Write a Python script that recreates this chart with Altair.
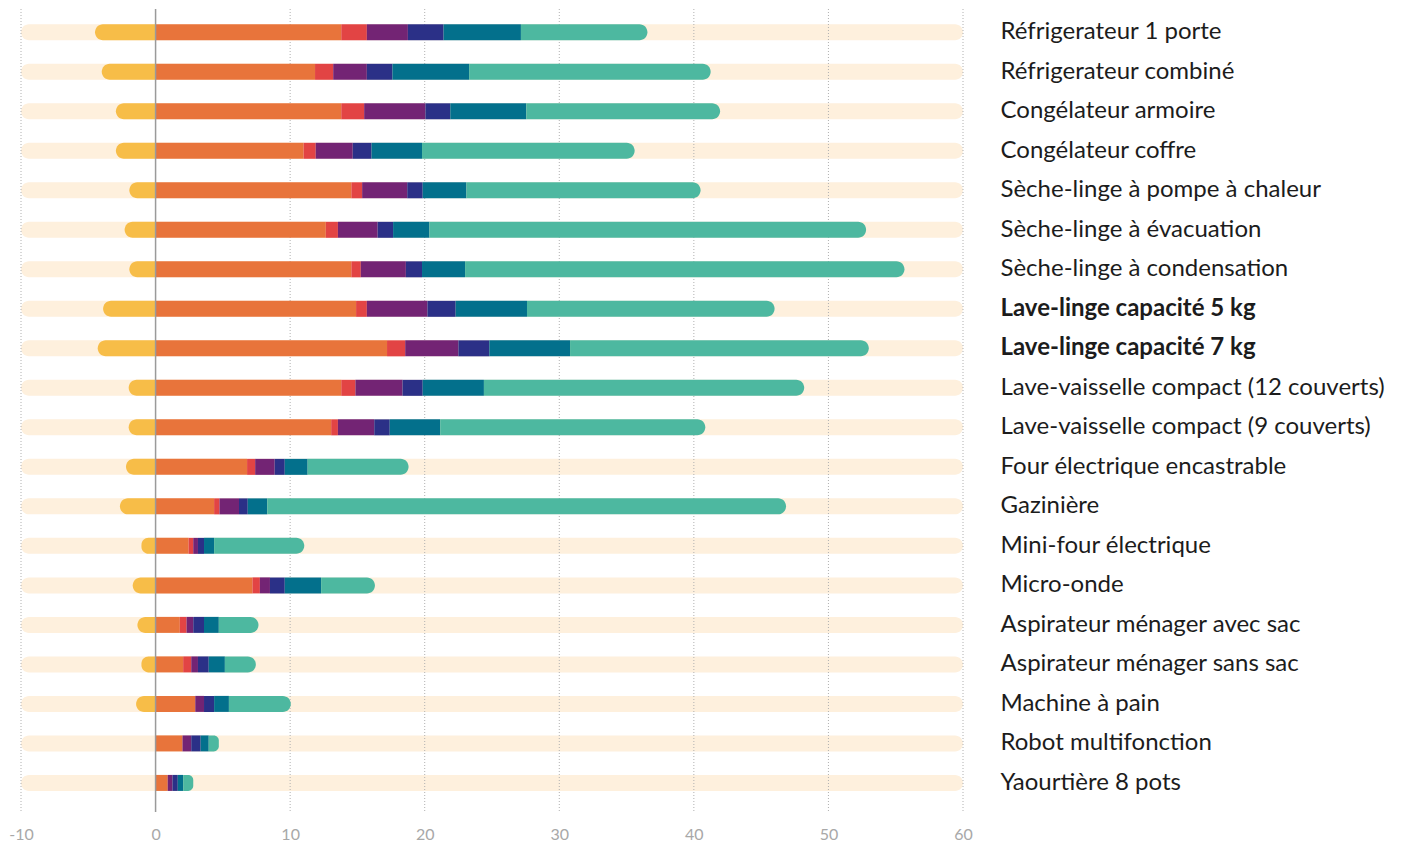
import altair as alt
import pandas as pd

categories = [
    "Réfrigerateur 1 porte",
    "Réfrigerateur combiné",
    "Congélateur armoire",
    "Congélateur coffre",
    "Sèche-linge à pompe à chaleur",
    "Sèche-linge à évacuation",
    "Sèche-linge à condensation",
    "Lave-linge capacité 5 kg",
    "Lave-linge capacité 7 kg",
    "Lave-vaisselle compact (12 couverts)",
    "Lave-vaisselle compact (9 couverts)",
    "Four électrique encastrable",
    "Gazinière",
    "Mini-four électrique",
    "Micro-onde",
    "Aspirateur ménager avec sac",
    "Aspirateur ménager sans sac",
    "Machine à pain",
    "Robot multifonction",
    "Yaourtière 8 pots",
]
bold_labels = ["Lave-linge capacité 5 kg", "Lave-linge capacité 7 kg"]

# segment values (widths)
s_yellow = [-4.5, -4.0, -2.95, -2.95, -1.95, -2.3, -1.95, -3.9, -4.3, -2.0,
            -2.0, -2.2, -2.65, -1.05, -1.7, -1.35, -1.05, -1.45, 0, 0]
s_orange = [13.8, 11.85, 13.8, 11.0, 14.55, 12.65, 14.55, 14.9, 17.2, 13.8,
            13.05, 6.8, 4.35, 2.45, 7.2, 1.8, 2.05, 2.95, 2.0, 0.9]
s_red = [1.9, 1.35, 1.7, 0.9, 0.8, 0.9, 0.7, 0.8, 1.35, 1.05,
         0.5, 0.6, 0.4, 0.35, 0.55, 0.5, 0.6, 0, 0, 0]
s_purple = [3.05, 2.5, 4.55, 2.75, 3.35, 2.95, 3.35, 4.5, 3.95, 3.5,
            2.7, 1.45, 1.45, 0.35, 0.75, 0.5, 0.5, 0.65, 0.65, 0.35]
s_navy = [2.65, 1.9, 1.85, 1.4, 1.15, 1.15, 1.2, 2.1, 2.3, 1.5,
          1.15, 0.75, 0.65, 0.45, 1.1, 0.8, 0.8, 0.75, 0.7, 0.4]
s_teal = [5.75, 5.7, 5.65, 3.75, 3.25, 2.7, 3.2, 5.3, 6.0, 4.55,
          3.75, 1.7, 1.45, 0.75, 2.7, 1.1, 1.2, 1.1, 0.6, 0.4]
s_green = [9.4, 17.95, 14.4, 15.8, 17.4, 32.45, 32.65, 18.4, 22.2, 23.8,
           19.7, 7.5, 38.55, 6.7, 4.0, 2.95, 2.3, 4.6, 0.75, 0.75]

series_names = ["s1", "s2", "s3", "s4", "s5", "s6", "s7"]
series_colors = ["#F7BD48", "#E8743B", "#E24444", "#732474", "#2B3087", "#03708C", "#4DB8A0"]
bg_color = "#FEF0DD"

x_ticks = [-10, 0, 10, 20, 30, 40, 50, 60]
x_min, x_max = -10, 60

# build long table
rows = []
for i, c in enumerate(categories):
    if s_yellow[i] < 0:
        rows.append({"cat": c, "series": "s1", "start": s_yellow[i], "end": 0})
    pos = 0.0
    for name, arr in zip(series_names[1:], [s_orange, s_red, s_purple, s_navy, s_teal, s_green]):
        w = arr[i]
        if w > 0:
            rows.append({"cat": c, "series": name, "start": pos, "end": pos + w})
        pos += w
df = pd.DataFrame(rows)
bg_df = pd.DataFrame({"cat": categories, "lo": [x_min] * len(categories), "hi": [x_max] * len(categories)})
tick_df = pd.DataFrame({"t": x_ticks})

label_font = "Lato"
bold_test = " || ".join([f"datum.value == '{b}'" for b in bold_labels])

y_enc = alt.Y(
    "cat:N",
    sort=categories,
    scale=alt.Scale(paddingInner=0.595, paddingOuter=0.46, align=0.42),
    axis=alt.Axis(
        orient="right", title=None, ticks=False, domain=False, grid=False,
        labelPadding=37, labelFontSize=24, labelFont=label_font, labelColor="#1c1c1c",
        labelFontWeight={"condition": {"test": bold_test, "value": "bold"}, "value": "normal"},
        labelLimit=500,
    ),
)
x_scale = alt.Scale(domain=[x_min, x_max], nice=False, zero=False)
x_axis = alt.Axis(values=x_ticks, title=None, ticks=False, domain=False, grid=False,
                  labelFlush=False, labelPadding=14, labelFontSize=16,
                  labelExpr="replace(datum.label, '\u2212', '-')",
                  labelFont=label_font, labelColor="#a8a8a8")

bar_h = 16

bg = alt.Chart(bg_df).mark_bar(size=bar_h, color=bg_color, cornerRadius=8).encode(
    x=alt.X("lo:Q", scale=x_scale, axis=x_axis),
    x2="hi:Q",
    y=y_enc,
)

grid = alt.Chart(tick_df).transform_filter("datum.t != 0").mark_rule(
    color="#b0b0b0", strokeDash=[1, 2], strokeWidth=1
).encode(x=alt.X("t:Q", scale=x_scale, axis=x_axis))

color_scale = alt.Scale(domain=series_names, range=series_colors)

yellow = alt.Chart(df).transform_filter("datum.series == 's1'").mark_bar(
    size=bar_h, cornerRadiusTopLeft=8, cornerRadiusBottomLeft=8
).encode(
    x=alt.X("start:Q", scale=x_scale, axis=x_axis), x2="end:Q", y=y_enc,
    color=alt.Color("series:N", scale=color_scale, legend=None),
)
middle = alt.Chart(df).transform_filter("datum.series != 's1' && datum.series != 's7'").mark_bar(
    size=bar_h
).encode(
    x=alt.X("start:Q", scale=x_scale, axis=x_axis), x2="end:Q", y=y_enc,
    color=alt.Color("series:N", scale=color_scale, legend=None),
)
green = alt.Chart(df).transform_filter("datum.series == 's7'").mark_bar(
    size=bar_h, cornerRadiusTopRight=8, cornerRadiusBottomRight=8
).encode(
    x=alt.X("start:Q", scale=x_scale, axis=x_axis), x2="end:Q", y=y_enc,
    color=alt.Color("series:N", scale=color_scale, legend=None),
)

zero = alt.Chart(tick_df).transform_filter("datum.t == 0").mark_rule(
    color="#9a9a9a", strokeWidth=1.5
).encode(x=alt.X("t:Q", scale=x_scale, axis=x_axis))

chart = alt.layer(bg, grid, yellow, middle, green, zero).properties(
    width=942, height=803, background="white",
    padding={"left": 0, "top": 0, "right": 0, "bottom": 0},
).configure_view(stroke=None)

chart.save("out.html", embed_options={"renderer": "svg", "actions": False})
